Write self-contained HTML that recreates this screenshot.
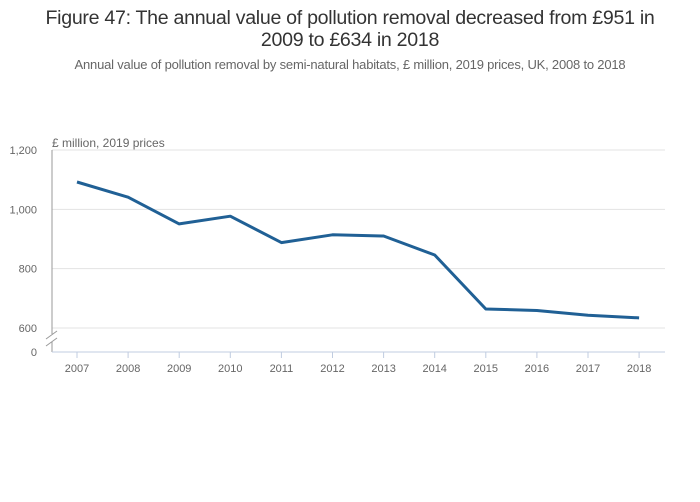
<!DOCTYPE html>
<html><head><meta charset="utf-8"><style>
body{margin:0;background:#fff;font-family:"Liberation Sans",sans-serif;}
#wrap{position:relative;width:700px;height:502px;overflow:hidden;}
.title{position:absolute;left:0;width:700px;text-align:center;color:#333;font-size:19.6px;line-height:22px;top:7px;letter-spacing:-0.3px;}
.sub{position:absolute;left:0;width:700px;text-align:center;color:#666;font-size:13px;top:57px;letter-spacing:-0.2px;}
svg text{font-family:"Liberation Sans",sans-serif;}
</style></head><body>
<div id="wrap">
<div class="title">Figure 47: The annual value of pollution removal decreased from £951 in<br>2009 to £634 in 2018</div>
<div class="sub">Annual value of pollution removal by semi-natural habitats, £ million, 2019 prices, UK, 2008 to 2018</div>
<svg id="chart" width="700" height="502" style="position:absolute;left:0;top:0"></svg>
</div>
<script>
const years=[2007,2008,2009,2010,2011,2012,2013,2014,2015,2016,2017,2018];
const values=[1092,1041,951,977,888,914,910,846,664,659,643,634];
const yTicks=[600,800,1000,1200];
const yTickLabels=["600","800","1,000","1,200"];

const svg=document.getElementById('chart');
const NS='http://www.w3.org/2000/svg';
function mk(t,a){const e=document.createElementNS(NS,t);for(const k in a)e.setAttribute(k,a[k]);svg.appendChild(e);return e;}
const x0=77,dx=51.1;
function xs(i){return x0+i*dx;}
function ys(v){return 328-(v-600)*(178/600);}

for(let i=0;i<yTicks.length;i++){
  const y=ys(yTicks[i]);
  const g=mk('line',{x1:52,x2:665,y1:y,y2:y,stroke:'#e3e3e3','stroke-width':1});
  
  
  const t=mk('text',{x:37,y:y+4,'text-anchor':'end','font-size':11,fill:'#666'});
  t.textContent=yTickLabels[i];
  
  
}
const z=mk('text',{x:37,y:356,'text-anchor':'end','font-size':11,fill:'#666'});z.textContent='0';


const ax=mk('line',{x1:52,x2:52,y1:150,y2:352,stroke:'#999','stroke-width':1});


const br=mk('rect',{x:46,y:334,width:12,height:8,fill:'#fff'});


const b1=mk('line',{x1:46,x2:57,y1:339,y2:331,stroke:'#999'});


const b2=mk('line',{x1:46,x2:57,y1:346,y2:338,stroke:'#999'});


const xa=mk('line',{x1:52,x2:665,y1:352,y2:352,stroke:'#c0cce0','stroke-width':1});


const yt=mk('text',{x:52,y:147,'font-size':12,fill:'#666'});yt.textContent='£ million, 2019 prices';



years.forEach((yr,i)=>{
  const tk=mk('line',{x1:xs(i),x2:xs(i),y1:352,y2:358,stroke:'#c0cce0'});
  
  
  const t=mk('text',{x:xs(i),y:372,'text-anchor':'middle','font-size':11,fill:'#666'});
  t.textContent=yr;
  
  
});
const d=values.map((v,i)=>(i?'L':'M')+xs(i).toFixed(1)+','+ys(v).toFixed(1)).join(' ');
const p=mk('path',{d:d,fill:'none',stroke:'#206095','stroke-width':3,'stroke-linejoin':'round'});


</script>
</body></html>
